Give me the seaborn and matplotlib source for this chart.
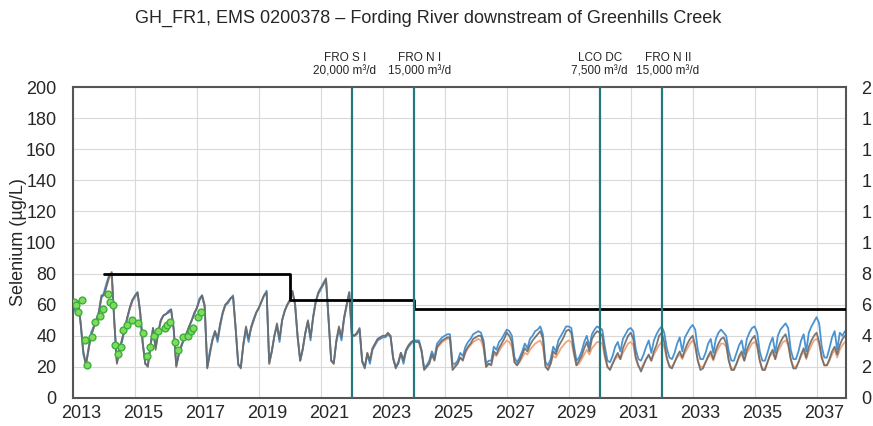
import numpy as np
import pandas as pd
import matplotlib
matplotlib.use("Agg")
import matplotlib.pyplot as plt
import matplotlib.transforms as mtransforms
import seaborn as sns

# monthly modelled selenium (ug/L), Jan 2013 .. Dec 2037, one row per year
grey_vals = [
    57, 60, 62, 48, 30, 21, 32, 40, 45, 50, 55, 66,
    66, 72, 78, 81, 50, 22, 30, 38, 44, 52, 58, 63,
    66, 68, 55, 35, 22, 20, 33, 45, 31, 42, 50, 53,
    54, 55, 57, 45, 20, 28, 34, 38, 42, 46, 50, 55,
    58, 63, 66, 60, 19, 28, 37, 43, 38, 48, 55, 60,
    62, 64, 65, 45, 22, 19, 35, 46, 38, 45, 50, 55,
    58, 62, 66, 68, 22, 30, 40, 48, 38, 50, 56, 60,
    63, 69, 60, 39, 24, 32, 42, 50, 39, 52, 62, 68,
    71, 74, 77, 50, 24, 22, 37, 46, 39, 52, 60, 68,
    41, 40, 42, 45, 24, 19, 29, 24, 32, 35, 38, 39,
    40, 40, 42, 40, 26, 19, 23, 29, 24, 31, 34, 36,
    37, 36, 36, 30, 18, 20, 22, 28, 24, 33, 35, 37,
    38, 39, 39, 18, 20, 22, 26, 24, 30, 33, 35, 38,
    39, 40, 40, 35, 20, 22, 21, 30, 28, 32, 35, 38,
    42, 40, 36, 23, 21, 24, 28, 32, 30, 34, 37, 39,
    41, 43, 38, 20, 18, 22, 30, 28, 33, 36, 39, 43,
    44, 42, 30, 21, 24, 27, 32, 36, 30, 38, 41, 43,
    42, 40, 28, 20, 18, 22, 26, 29, 25, 32, 36, 40,
    42, 38, 26, 21, 17, 21, 25, 28, 24, 30, 34, 40,
    42, 36, 26, 20, 19, 23, 27, 30, 26, 31, 35, 38,
    40, 34, 24, 18, 19, 23, 27, 30, 25, 31, 35, 38,
    39, 35, 24, 18, 18, 22, 27, 30, 24, 31, 35, 38,
    40, 34, 24, 18, 18, 23, 28, 31, 25, 32, 36, 39,
    41, 35, 25, 19, 19, 23, 28, 32, 26, 33, 37, 40,
    42, 36, 26, 21, 21, 25, 30, 33, 28, 34, 38, 40,
]
blue_vals = [
    55, 58, 62, 47, 28, 22, 30, 42, 46, 50, 55, 64,
    68, 74, 79, 80, 48, 23, 34, 36, 44, 51, 58, 63,
    65, 68, 56, 36, 22, 21, 34, 45, 33, 42, 50, 53,
    54, 56, 57, 44, 21, 29, 33, 38, 41, 46, 50, 54,
    58, 64, 66, 58, 20, 30, 38, 43, 36, 46, 55, 60,
    61, 64, 66, 44, 21, 20, 34, 44, 36, 46, 51, 55,
    58, 62, 66, 69, 23, 30, 40, 46, 36, 50, 56, 60,
    63, 68, 61, 40, 24, 31, 42, 49, 37, 52, 62, 67,
    70, 73, 76, 50, 24, 23, 36, 44, 37, 51, 60, 68,
    40, 40, 41, 44, 23, 20, 28, 22, 31, 34, 37, 38,
    39, 39, 41, 39, 25, 20, 22, 29, 22, 30, 33, 35,
    37, 37, 37, 31, 19, 21, 24, 30, 26, 35, 37, 39,
    40, 41, 41, 22, 22, 24, 29, 27, 33, 36, 38, 41,
    42, 43, 42, 37, 22, 24, 24, 33, 31, 36, 38, 41,
    44, 43, 40, 26, 23, 26, 30, 35, 32, 38, 40, 43,
    44, 46, 41, 23, 21, 25, 33, 30, 37, 40, 43, 46,
    46, 45, 34, 24, 26, 30, 36, 40, 33, 41, 44, 46,
    45, 44, 33, 24, 23, 27, 33, 36, 30, 38, 41, 44,
    45, 43, 31, 25, 24, 28, 33, 37, 29, 37, 41, 44,
    46, 42, 32, 26, 25, 29, 35, 39, 30, 39, 42, 45,
    47, 44, 31, 25, 25, 29, 35, 38, 29, 38, 42, 44,
    42, 40, 30, 24, 24, 29, 34, 37, 28, 38, 42, 45,
    46, 42, 30, 24, 24, 29, 35, 39, 29, 40, 44, 46,
    48, 45, 31, 25, 25, 30, 37, 41, 30, 42, 46, 49,
    52, 48, 33, 26, 26, 32, 39, 43, 31, 42, 40, 43,
]
orange_vals = [
    57, 60, 61, 47, 30, 22, 31, 40, 45, 49, 55, 65,
    66, 72, 77, 79, 49, 23, 31, 38, 44, 51, 57, 62,
    65, 67, 55, 35, 22, 21, 33, 44, 32, 42, 49, 53,
    54, 55, 56, 44, 21, 28, 34, 38, 41, 46, 50, 54,
    58, 63, 65, 59, 20, 29, 37, 42, 38, 47, 54, 59,
    61, 64, 65, 45, 22, 20, 35, 45, 38, 45, 50, 55,
    58, 62, 66, 67, 22, 30, 40, 47, 38, 50, 56, 60,
    62, 68, 60, 39, 24, 32, 42, 49, 39, 51, 61, 67,
    70, 73, 76, 50, 24, 22, 37, 45, 39, 51, 59, 67,
    41, 40, 42, 44, 24, 20, 29, 24, 32, 35, 38, 39,
    40, 40, 41, 40, 26, 20, 23, 29, 25, 31, 34, 36,
    37, 36, 36, 30, 19, 21, 23, 28, 25, 32, 34, 36,
    37, 38, 38, 20, 21, 23, 26, 25, 29, 32, 34, 36,
    37, 38, 37, 32, 20, 22, 22, 28, 27, 30, 33, 35,
    37, 36, 33, 23, 21, 23, 26, 29, 28, 31, 33, 35,
    36, 37, 33, 21, 19, 22, 27, 26, 29, 32, 34, 36,
    37, 36, 28, 21, 22, 25, 28, 31, 28, 32, 34, 36,
    36, 35, 26, 20, 19, 22, 25, 27, 25, 29, 32, 35,
    36, 34, 25, 20, 19, 22, 25, 27, 24, 28, 31, 34,
    36, 33, 25, 21, 20, 23, 26, 28, 25, 29, 32, 35,
    37, 33, 24, 20, 20, 23, 26, 28, 24, 29, 32, 35,
    35, 33, 24, 19, 19, 22, 26, 28, 24, 29, 32, 35,
    36, 33, 24, 19, 19, 23, 27, 29, 25, 30, 33, 36,
    37, 34, 25, 20, 20, 23, 27, 30, 25, 30, 34, 37,
    38, 35, 26, 21, 21, 24, 28, 31, 26, 31, 34, 36,
]

# observed samples
obs_year = [2013.02, 2013.10, 2013.17, 2013.28, 2013.39, 2013.44, 2013.60, 2013.70,
            2013.87, 2013.97, 2014.13, 2014.20, 2014.30, 2014.35, 2014.45, 2014.55,
            2014.60, 2014.75, 2014.90, 2015.10, 2015.27, 2015.38, 2015.50, 2015.60,
            2015.75, 2015.97, 2016.05, 2016.13, 2016.30, 2016.40, 2016.55, 2016.70,
            2016.80, 2016.87, 2017.03, 2017.12]
obs_val = [62, 60, 55, 63, 37, 21, 39, 49,
           53, 57, 67, 62, 60, 34, 28, 33,
           44, 47, 50, 48, 42, 27, 33, 40,
           43, 45, 47, 49, 36, 31, 39, 40,
           43, 45, 52, 55]

# benchmark step
bench_year = [2014, 2020, 2024, 2038]
bench_val = [80, 63, 57, 57]

# treatment events
event_year = [2022, 2024, 2030, 2032]
event_text = ["FRO S I\n20,000 m³/d", "FRO N I\n15,000 m³/d",
              "LCO DC\n7,500 m³/d", "FRO N II\n15,000 m³/d"]

y_ticks = [0, 20, 40, 60, 80, 100, 120, 140, 160, 180, 200]
# right-hand labels as they show in the source (cut at the page edge)
right_labels = ["0", "2", "4", "6", "8", "1", "1", "1", "1", "1", "2"]

sns.set_theme(style="white")
plt.rcParams["font.family"] = ["Liberation Sans", "DejaVu Sans"]

t = 2013 + np.arange(len(grey_vals)) / 12
df = pd.concat([
    pd.DataFrame({"year": t, "se": orange_vals, "run": "orange"}),
    pd.DataFrame({"year": t, "se": blue_vals, "run": "blue"}),
    pd.DataFrame({"year": t, "se": grey_vals, "run": "grey"}),
])
pal = {"orange": "#F2A57A", "blue": "#4A93D0", "grey": "#6A6A6A"}

fig = plt.figure(figsize=(8.73, 4.26), dpi=100)
ax = fig.add_axes([73 / 873, 1 - 398 / 426, 773 / 873, 311 / 426])

sns.lineplot(data=df, x="year", y="se", hue="run", palette=pal, legend=False,
             estimator=None, sort=False, lw=1.3, ax=ax)
ax.lines[-1].set_alpha(0.9)
sns.scatterplot(x=obs_year, y=obs_val, color="#7EDB5C", edgecolor="#3BAF3B",
                s=24, linewidth=1.0, zorder=5, ax=ax)
sns.lineplot(x=bench_year, y=bench_val, color="black", lw=2.0,
             drawstyle="steps-post", ax=ax, zorder=6)

for yr, txt, dx in zip(event_year, event_text, [-0.23, 0.17, 0.0, 0.2]):
    ax.axvline(yr, color="#26777E", lw=1.6, zorder=7)
    ax.text(yr + dx, 1.03, txt, transform=ax.get_xaxis_transform(),
            ha="center", va="bottom", fontsize=8.5, linespacing=1.15)

ax.set_xlim(2013, 2037.95)
ax.set_ylim(0, 200)
ax.set_xticks(np.arange(2013, 2038, 2))
ax.set_yticks(y_ticks)
ax.grid(True, color="#D9D9D9", lw=0.8)
ax.set_axisbelow(True)
ax.tick_params(axis="both", labelsize=13, length=0)
ax.tick_params(axis="y", pad=12)
ax.tick_params(axis="x", pad=5)
off = mtransforms.ScaledTranslation(0.08, 0, fig.dpi_scale_trans)
for lab in ax.get_xticklabels():
    lab.set_transform(lab.get_transform() + off)
ax.set_xlabel("")
ax.set_ylabel("Selenium (µg/L)", fontsize=13)
ax.yaxis.set_label_coords(-46 / 773, 0.5)
for s in ax.spines.values():
    s.set_color("#555555")
    s.set_linewidth(1.5)

ax2 = ax.twinx()
ax2.set_ylim(0, 200)
ax2.set_yticks(y_ticks)
ax2.set_yticklabels(right_labels)
ax2.tick_params(axis="y", labelsize=13, length=0, pad=11)
for s in ax2.spines.values():
    s.set_visible(False)

fig.text(0.491, 1 - 18 / 426, "GH_FR1, EMS 0200378 – Fording River downstream of Greenhills Creek",
         ha="center", va="center", fontsize=13)

fig.savefig("out.png", dpi=100)
